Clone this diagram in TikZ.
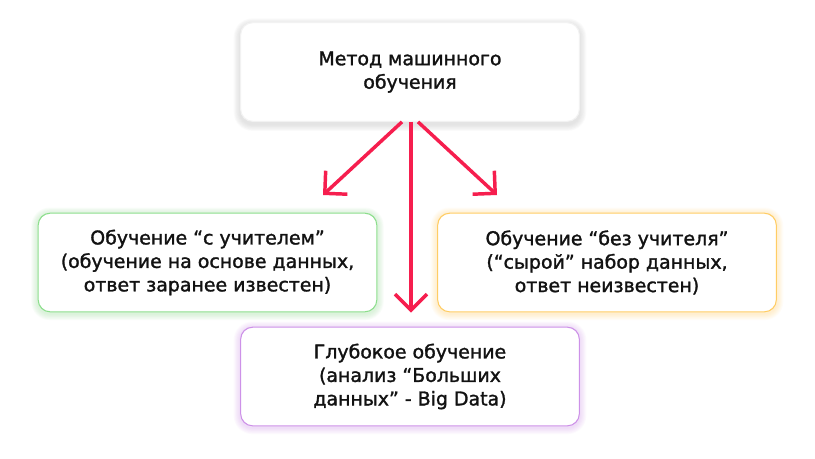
\documentclass[tikz,border=0pt]{standalone}
\usepackage{fontspec}
\setmainfont{DejaVu Sans}
\newfontfamily\medfont{DejaVu Sans}[FakeBold=1.5]
\usetikzlibrary{arrows.meta,backgrounds}
\definecolor{arrred}{RGB}{246,30,78}
\definecolor{grn}{RGB}{140,222,140}
\definecolor{org}{RGB}{255,205,100}
\definecolor{prp}{RGB}{205,145,232}
\definecolor{shd}{RGB}{150,150,150}
\definecolor{txt}{RGB}{18,18,18}
\tikzset{
  box/.style={rectangle, rounded corners=9pt, fill=white, line width=0.8pt,
    minimum width=254pt, minimum height=74pt, align=center, text=txt,
    font=\medfont\fontsize{14.2pt}{17.6pt}\selectfont},
  arr/.style={draw=arrred, line width=2.6pt, -{Straight Barb[length=12pt,width=24pt]}}
}
\newcommand\glowround[4]{%
  \foreach \d in {0.6,1.2,...,4.8}{%
    \pgfmathsetmacro\rr{9+\d}%
    \fill[#2, opacity=#4, rounded corners=\rr pt]
      ([shift={(-\d pt,-\d pt-#3)}]#1.south west) rectangle ([shift={(\d pt,\d pt-#3)}]#1.north east);
  }%
}
\begin{document}
\begin{tikzpicture}[x=0.75pt,y=-0.75pt]
\useasboundingbox (0,0) rectangle (815,458);

\node[box, draw=shd!12] (top) at (410,72) {Метод машинного\\обучения};
\node[box, draw=grn] (sup) at (207.5,262.5) {Обучение “с учителем”\\(обучение на основе данных,\\ответ заранее известен)};
\node[box, draw=org] (uns) at (607,262.5) {Обучение “без учителя”\\(“сырой” набор данных,\\ответ неизвестен)};
\node[box, draw=prp] (deep) at (410,376.5) {Глубокое обучение\\(анализ “Больших\\данных” - Big Data)};

\begin{scope}[on background layer]
  \fill[white] (0,0) rectangle (815,458);
  \glowround{top}{shd}{2pt}{0.03}
  \glowround{sup}{grn}{1pt}{0.04}
  \glowround{uns}{org}{1pt}{0.04}
  \glowround{deep}{prp}{1pt}{0.04}
\end{scope}

\coordinate (lt) at (323,195);
\coordinate (rt) at (497,195);
\draw[arr] ([xshift=-6pt]top.south) -- (lt);
\draw[arr] ([xshift=6pt]top.south) -- (rt);
\draw[arr, shorten >=10.5pt] ([xshift=0.75pt]top.south) -- ([xshift=0.75pt]deep.north);
\end{tikzpicture}
\end{document}
